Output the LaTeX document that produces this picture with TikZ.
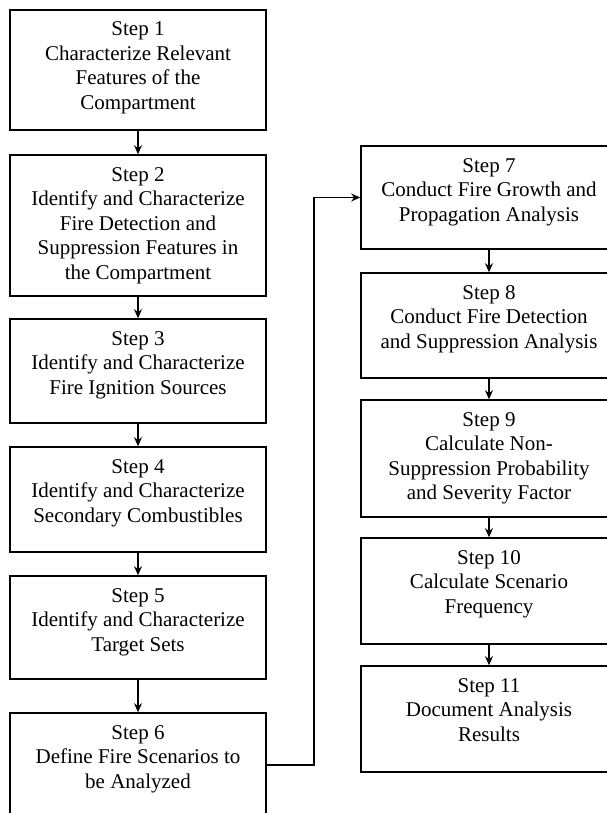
\documentclass[tikz,border=0pt]{standalone}
\usepackage{fontspec}
\setmainfont{Liberation Serif}
\usepackage{tikz}
\usetikzlibrary{arrows.meta}
\tikzset{stepbox/.style={draw,line width=1.6pt,inner sep=0pt,minimum width=256pt,font=\rmfamily\fontsize{21}{24.5}\selectfont},
  link/.style={line width=1.5pt,-{Stealth[length=9pt,width=8pt]}}}
\newcommand{\steplines}[2]{\parbox[c][#1pt][t]{254pt}{\centering\rule{0pt}{26pt}#2}}

\begin{document}
\begin{tikzpicture}[x=1pt,y=-1pt]
            \clip (0,0) rectangle (607,813);
            \fill[white] (0,0) rectangle (607,813);
            \node[stepbox] (s1) at (138,70) {\steplines{120}{Step 1\\Characterize Relevant\\Features of the\\Compartment}};
            \node[stepbox] (s2) at (138,225.5) {\steplines{141}{Step 2\\Identify and Characterize\\Fire Detection and\\Suppression Features in\\the Compartment}};
            \node[stepbox] (s3) at (138,371) {\steplines{104}{Step 3\\Identify and Characterize\\Fire Ignition Sources}};
            \node[stepbox] (s4) at (138,499.5) {\steplines{105}{Step 4\\Identify and Characterize\\Secondary Combustibles}};
            \node[stepbox] (s5) at (138,627.5) {\steplines{103}{Step 5\\Identify and Characterize\\Target Sets}};
            \node[stepbox] (s6) at (138,765) {\steplines{104}{Step 6\\Define Fire Scenarios to\\be Analyzed}};
            \node[stepbox] (s7) at (489,197.5) {\steplines{103}{Step 7\\Conduct Fire Growth and\\Propagation Analysis}};
            \node[stepbox] (s8) at (489,325.5) {\steplines{105}{Step 8\\Conduct Fire Detection\\and Suppression Analysis}};
            \node[stepbox] (s9) at (489,458.5) {\steplines{117}{Step 9\\Calculate Non-\\Suppression Probability\\and Severity Factor}};
            \node[stepbox] (s10) at (489,591) {\steplines{106}{Step 10\\Calculate Scenario\\Frequency}};
            \node[stepbox] (s11) at (489,719) {\steplines{106}{Step 11\\Document Analysis\\Results}};
            \draw[link] (s1) -- (s2);
            \draw[link] (s2) -- (s3);
            \draw[link] (s3) -- (s4);
            \draw[link] (s4) -- (s5);
            \draw[link] (s5) -- (s6);
            \draw[link] (s6.east) -- ++(47,0) |- (s7.west);
            \draw[link] (s7) -- (s8);
            \draw[link] (s8) -- (s9);
            \draw[link] (s9) -- (s10);
            \draw[link] (s10) -- (s11);
        \end{tikzpicture}
\end{document}
